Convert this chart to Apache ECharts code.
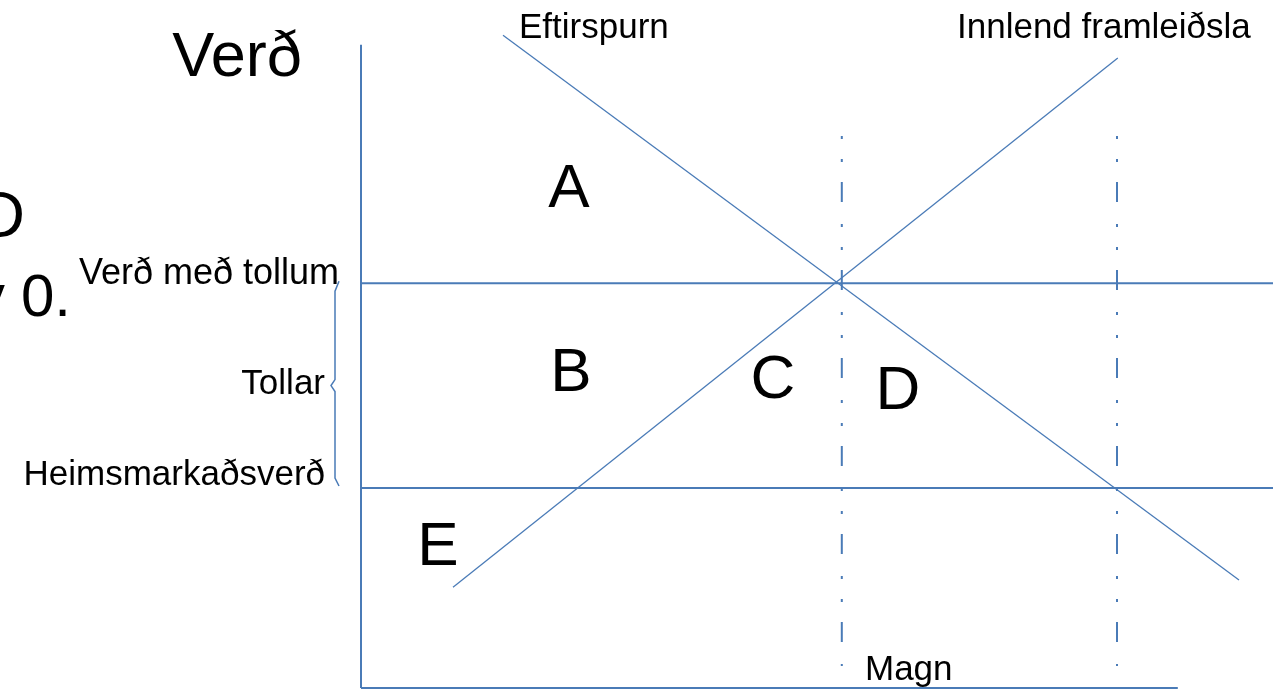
<!DOCTYPE html>
<html>
<head>
<meta charset="utf-8">
<script src="https://cdn.jsdelivr.net/npm/echarts@6/dist/echarts.min.js"></script>
<style>
html,body{margin:0;padding:0;background:#fff}
#c{width:1273px;height:689px}
</style>
</head>
<body>
<div id="c"></div>
<script>
// verð (y) og magn (x), einingar lesnar af myndinni
var verdMedTollum = 50.6
var heimsVerd = 25
var eftirspurn = [[17.75, 81.6], [109.75, 13.5]]
var framleidsla = [[11.5, 12.6], [94.6, 78.75]]
var magnLinurX = [60.1, 94.5]
var magnLinurY = [69, 2.75]
var asVerd = [0, 80.4]
var asMagn = [0, 102.1]
var xMax = 114, yMax = 86

var blar = '#4a7bb7'
var letur = 'Liberation Sans, Arial, sans-serif'

function lina(data, w, type) {
  return {
    type: 'line', data: data, symbol: 'none', silent: true, animation: false,
    lineStyle: { color: blar, width: w, type: type || 'solid', cap: 'butt' }
  }
}

var series = [
  lina([[0, asVerd[0]], [0, asVerd[1]]], 2),
  lina([[asMagn[0], 0], [asMagn[1], 0]], 2),
  lina([[0, verdMedTollum], [xMax, verdMedTollum]], 2),
  lina([[0, heimsVerd], [xMax, heimsVerd]], 2),
  lina(eftirspurn, 1.3),
  lina(framleidsla, 1.3)
]
magnLinurX.forEach(function (x) {
  series.push(lina([[x, magnLinurY[0]], [x, magnLinurY[1]]], 2, [3, 20, 3, 20, 20, 22]))
})

function texti(id, t, x, y, size, align) {
  return {
    id: id, type: 'text', x: x, y: y, silent: true,
    style: { text: t, fill: '#000', font: size + 'px ' + letur, textAlign: align || 'left', textVerticalAlign: 'middle' }
  }
}

var myChart = echarts.init(document.getElementById('c'))
myChart.setOption({
  backgroundColor: '#fff',
  animation: false,
  grid: { left: 361, right: 0, top: 0, bottom: 1 },
  xAxis: { type: 'value', min: 0, max: xMax, show: false },
  yAxis: { type: 'value', min: 0, max: yMax, show: false },
  series: series,
  graphic: [
    texti('t1', 'Verð', 237, 59, 63, 'center'),
    texti('t2', 'Eftirspurn', 519, 28, 35),
    texti('t3', 'Innlend framleiðsla', 957, 28, 35),
    texti('t4', 'Verð með tollum', 339, 274, 36, 'right'),
    texti('t5', 'Tollar', 325, 384, 35, 'right'),
    texti('t6', 'Heimsmarkaðsverð', 325, 475, 35, 'right'),
    texti('t7', 'Magn', 865, 670, 35),
    texti('a', 'A', 569, 190, 62, 'center'),
    texti('b', 'B', 571, 374, 62, 'center'),
    texti('c', 'C', 773, 381, 62, 'center'),
    texti('d', 'D', 898, 392, 62, 'center'),
    texti('e', 'E', 438, 548, 62, 'center'),
    texti('l1', 'D', 25, 219, 64, 'right'),
    texti('l2', 'v', 5, 299, 60, 'right'),
    texti('l3', '0.', 21, 299, 60)
  ]
})

// slaufa milli verðanna tveggja
var p1 = myChart.convertToPixel({ gridIndex: 0 }, [0, verdMedTollum])
var p2 = myChart.convertToPixel({ gridIndex: 0 }, [0, heimsVerd])
var mid = (p1[1] + p2[1]) / 2
myChart.setOption({
  graphic: [{
    id: 'slaufa', type: 'polyline', silent: true,
    shape: { points: [[339, p1[1] - 2], [335, p1[1] + 8], [335, mid - 6], [331, mid], [335, mid + 6], [335, p2[1] - 10], [339, p2[1] - 2]] },
    style: { stroke: blar, lineWidth: 1.5, fill: null }
  }]
})
</script>
</body>
</html>
